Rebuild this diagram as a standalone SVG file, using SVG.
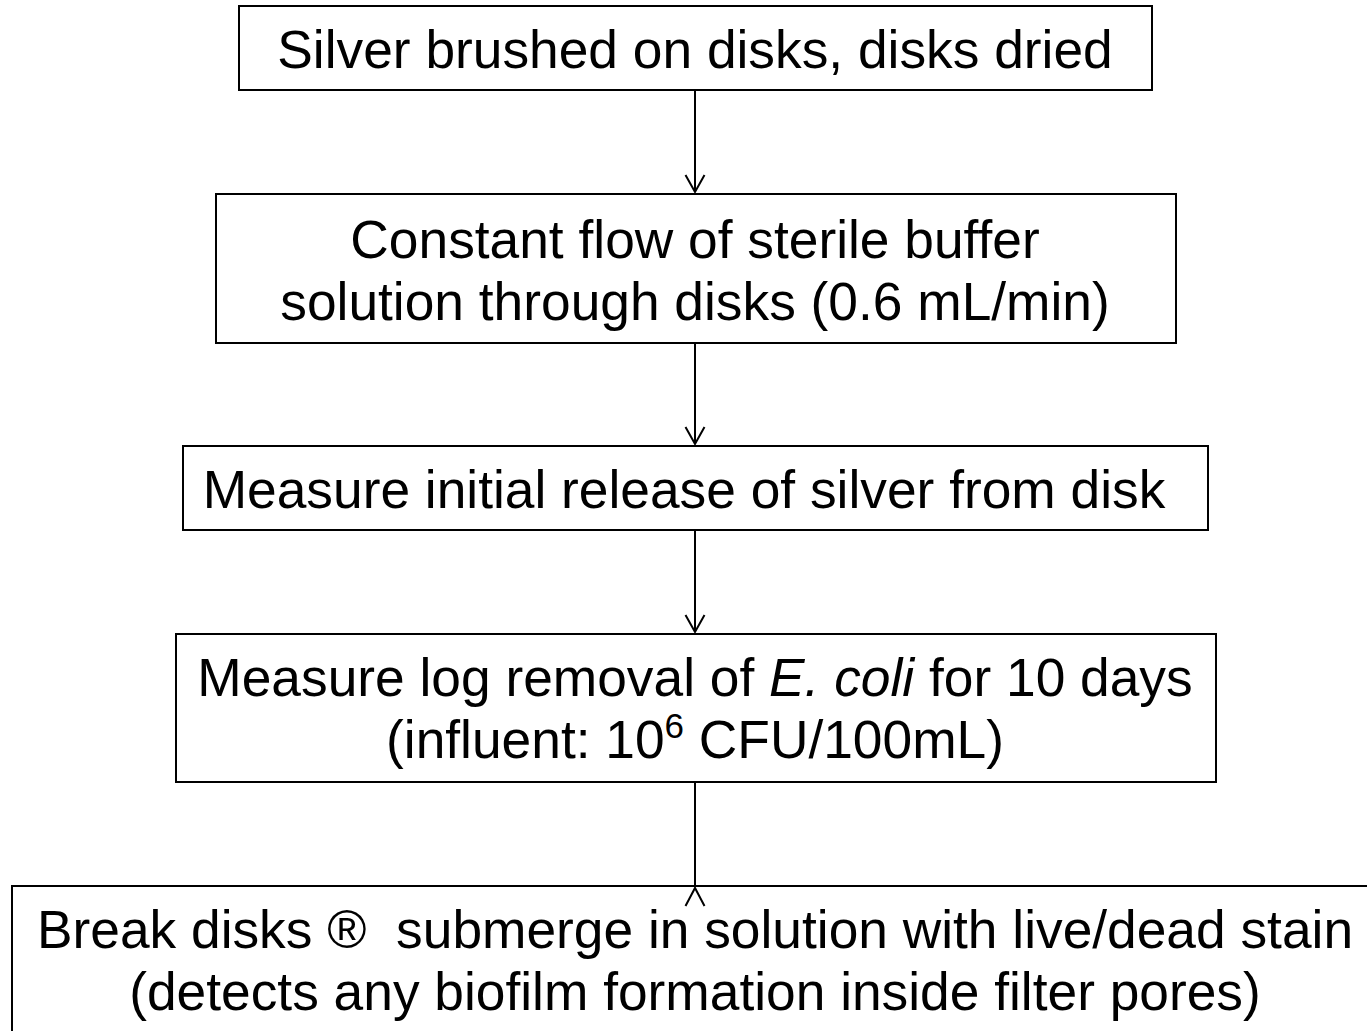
<svg xmlns="http://www.w3.org/2000/svg" width="1367" height="1031" viewBox="0 0 1367 1031">
<style>
.box{fill:#fff;stroke:#000;stroke-width:2}
.t{font-family:"Liberation Sans",Arial,sans-serif;font-size:53.3px;fill:#000;text-anchor:middle;white-space:pre}
.c{stroke:#000;stroke-width:2;fill:none}
</style>
<defs>
<marker id="ah" markerUnits="userSpaceOnUse" markerWidth="24" markerHeight="26" viewBox="-21 -13 24 26" refX="0" refY="0" orient="auto">
<path d="M-17,-9.5 L0,0 L-17,9.5" fill="none" stroke="#000" stroke-width="2"/>
</marker>
</defs>
<rect width="1367" height="1031" fill="#fff"/>
<g id="connectors">
<line class="c" x1="695" y1="90" x2="695" y2="192" marker-end="url(#ah)"/>
<line class="c" x1="695" y1="343" x2="695" y2="444" marker-end="url(#ah)"/>
<line class="c" x1="695" y1="530" x2="695" y2="632" marker-end="url(#ah)"/>
<line class="c" x1="695" y1="782" x2="695" y2="885"/>
</g>
<g id="n1">
<rect class="box" x="239" y="6" width="913" height="84"/>
<text class="t" x="695" y="68">Silver brushed on disks, disks dried</text>
</g>
<g id="n2">
<rect class="box" x="216" y="194" width="960" height="149"/>
<text class="t" x="695" y="258">Constant flow of sterile buffer</text>
<text class="t" x="695" y="320">solution through disks (0.6 mL/min)</text>
</g>
<g id="n3">
<rect class="box" x="183" y="446" width="1025" height="84"/>
<text class="t" x="684" y="508">Measure initial release of silver from disk</text>
</g>
<g id="n4">
<rect class="box" x="176" y="634" width="1040" height="148"/>
<text class="t" x="695" y="696">Measure log removal of <tspan font-style="italic">E. coli</tspan> for 10 days</text>
<text class="t" x="695" y="758">(influent: 10<tspan font-size="35" dy="-20">6</tspan><tspan dy="20"> CFU/100mL)</tspan></text>
</g>
<g id="n5">
<rect class="box" x="12" y="886" width="1370" height="160"/>
<text class="t" x="695" y="948">Break disks ®  submerge in solution with live/dead stain</text>
<text class="t" x="695" y="1010">(detects any biofilm formation inside filter pores)</text>
<path class="c" d="M685.5,906 L695,888 L704.5,906"/>
</g>
</svg>
